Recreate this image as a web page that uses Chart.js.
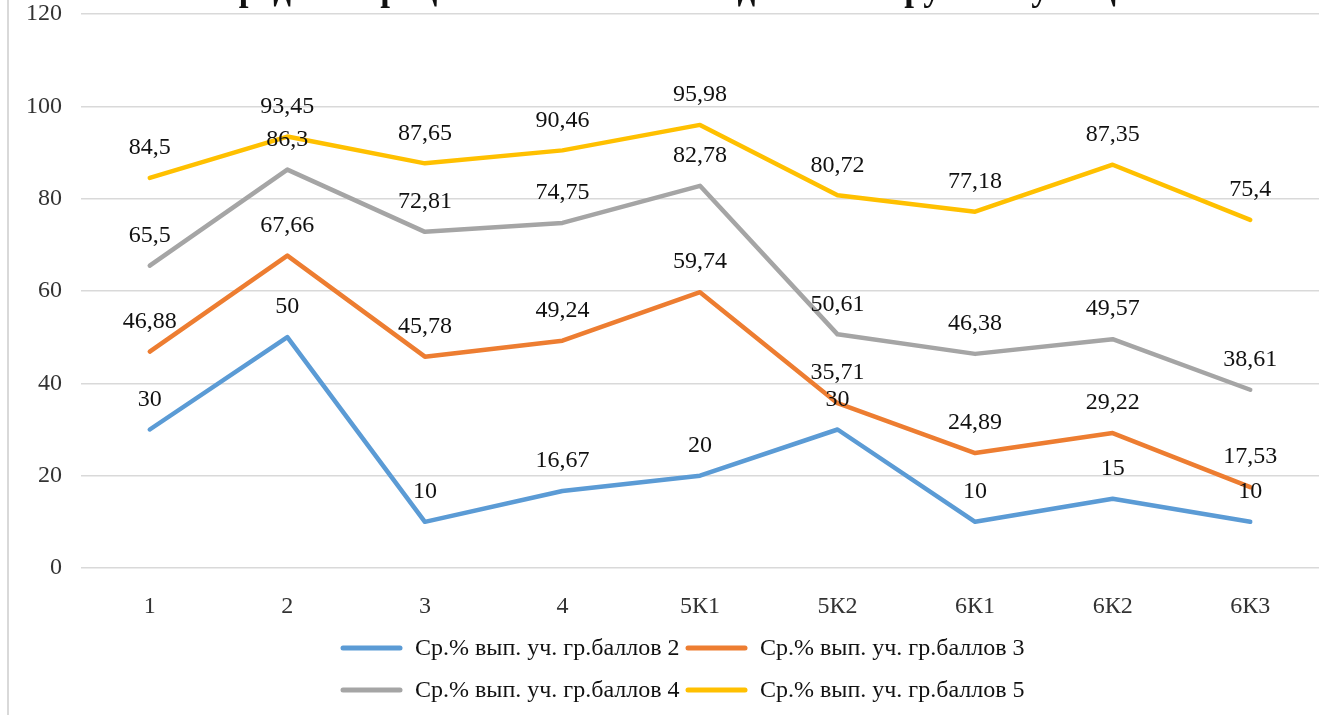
<!DOCTYPE html>
<html>
<head>
<meta charset="utf-8">
<script src="https://cdn.jsdelivr.net/npm/chart.js@4/dist/chart.umd.min.js"></script>
<style>
  html, body { margin: 0; padding: 0; background: #fff; }
  #wrap { position: relative; width: 1338px; height: 715px; overflow: hidden; }
  #edge { position: absolute; left: 7px; top: 0; width: 2px; height: 715px; background: #d9d9d9; }
  canvas { position: absolute; left: 0; top: 0; }
</style>
</head>
<body>
<div id="wrap">
  <div id="edge"></div>
  <canvas id="chart" width="1338" height="715"></canvas>
</div>
<script>
var chartTitle = 'Средний процент выполнения заданий по группам учащихся';
var categories = ['1', '2', '3', '4', '5К1', '5К2', '6К1', '6К2', '6К3'];
var seriesNames = [
    'Ср.% вып. уч. гр.баллов 2',
    'Ср.% вып. уч. гр.баллов 3',
    'Ср.% вып. уч. гр.баллов 4',
    'Ср.% вып. уч. гр.баллов 5'
];
var group2 = [30, 50, 10, 16.67, 20, 30, 10, 15, 10];
var group3 = [46.88, 67.66, 45.78, 49.24, 59.74, 35.71, 24.89, 29.22, 17.53];
var group4 = [65.5, 86.3, 72.81, 74.75, 82.78, 50.61, 46.38, 49.57, 38.61];
var group5 = [84.5, 93.45, 87.65, 90.46, 95.98, 80.72, 77.18, 87.35, 75.4];
var yTicks = [0, 20, 40, 60, 80, 100, 120];

var colors = ['#5B9BD5', '#ED7D31', '#A5A5A5', '#FFC000'];
var serif = '"Liberation Serif", "Times New Roman", serif';
var textColor = '#111111';
var tickColor = '#333333';

function fmt(v) {
    return String(v).replace('.', ',');
}

// value labels above each point
var valueLabels = {
    id: 'valueLabels',
    afterDatasetsDraw: function (chart) {
        var ctx = chart.ctx;
        ctx.save();
        ctx.font = '24px ' + serif;
        ctx.fillStyle = textColor;
        ctx.textAlign = 'center';
        ctx.textBaseline = 'middle';
        chart.data.datasets.forEach(function (ds, i) {
            var meta = chart.getDatasetMeta(i);
            meta.data.forEach(function (pt, j) {
                ctx.fillText(fmt(ds.data[j]), pt.x, pt.y - 30);
            });
        });
        ctx.restore();
    }
};

// title (clipped by the top edge) and two-row legend
var extras = {
    id: 'extras',
    afterDraw: function (chart) {
        var ctx = chart.ctx;
        ctx.save();
        ctx.font = 'bold 35px ' + serif;
        ctx.fillStyle = textColor;
        ctx.textAlign = 'center';
        ctx.textBaseline = 'alphabetic';
        ctx.fillText(chartTitle, 700, 0);

        ctx.font = '24px ' + serif;
        ctx.textAlign = 'left';
        ctx.textBaseline = 'middle';
        var lineLen = 57, gap = 15;
        var colX = [343, 688];
        var rowY = [648, 690];
        chart.data.datasets.forEach(function (ds, i) {
            var x = colX[i % 2], y = rowY[Math.floor(i / 2)];
            ctx.strokeStyle = ds.borderColor;
            ctx.lineWidth = 5;
            ctx.lineCap = 'round';
            ctx.beginPath();
            ctx.moveTo(x, y);
            ctx.lineTo(x + lineLen, y);
            ctx.stroke();
            ctx.fillStyle = textColor;
            ctx.fillText(ds.label, x + lineLen + gap, y + 1);
        });
        ctx.restore();
    }
};

var allSeries = [group2, group3, group4, group5];
var datasets = allSeries.map(function (vals, i) {
    return {
        label: seriesNames[i],
        data: vals,
        borderColor: colors[i],
        backgroundColor: colors[i],
        borderWidth: 4.5,
        borderCapStyle: 'round',
        borderJoinStyle: 'round',
        pointRadius: 0,
        tension: 0,
        fill: false
    };
});

new Chart(document.getElementById('chart'), {
    type: 'line',
    data: { labels: categories, datasets: datasets },
    plugins: [valueLabels, extras],
    options: {
        responsive: false,
        animation: false,
        layout: { padding: { top: 14, right: 19, bottom: 100, left: 0 } },
        plugins: {
            legend: { display: false },
            title: { display: false },
            tooltip: { enabled: false }
        },
        scales: {
            x: {
                offset: true,
                grid: { display: false },
                border: { display: false },
                ticks: {
                    color: tickColor,
                    font: { family: serif, size: 24 },
                    padding: 16,
                    maxRotation: 0
                },
                afterFit: function (scale) { scale.height = 47; }
            },
            y: {
                min: 0,
                max: 120,
                afterBuildTicks: function (scale) {
                    scale.ticks = yTicks.map(function (v) { return { value: v }; });
                },
                grid: { color: '#d9d9d9', lineWidth: 1.5, drawTicks: false },
                border: { display: false },
                ticks: {
                    color: tickColor,
                    font: { family: serif, size: 24 },
                    padding: 19
                },
                afterFit: function (scale) {
                    scale.width = 81;
                    scale.paddingTop = 0;
                    scale.paddingBottom = 0;
                }
            }
        }
    }
});
</script>
</body>
</html>
